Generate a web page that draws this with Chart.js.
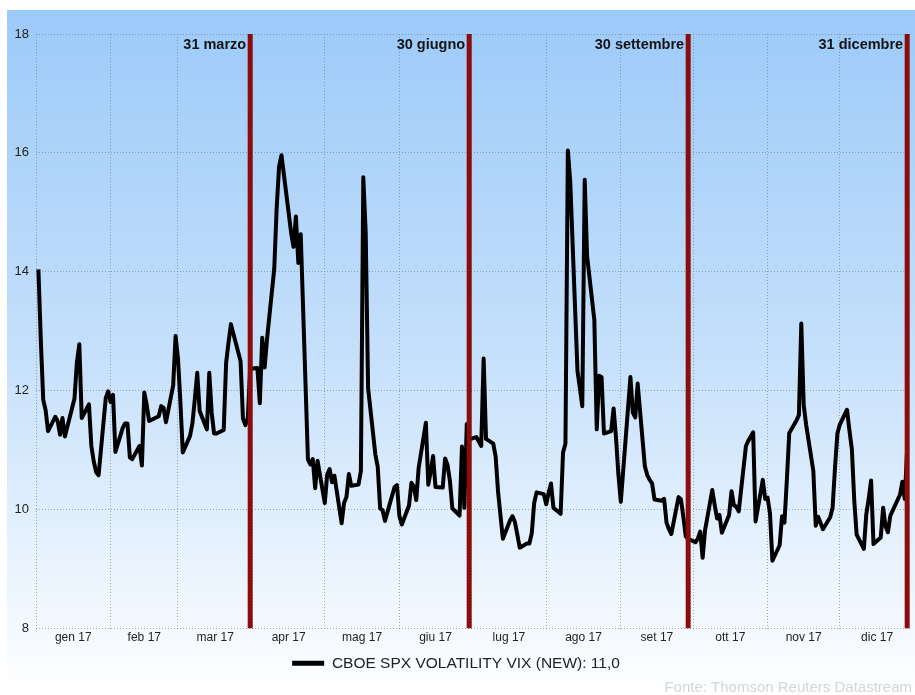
<!DOCTYPE html>
<html lang="it">
<head>
<meta charset="utf-8">
<title>CBOE SPX VOLATILITY VIX 2017</title>
<script src="https://cdn.jsdelivr.net/npm/chart.js@4.4.1/dist/chart.umd.min.js"></script>
<style>
  html, body { margin: 0; padding: 0; background: #ffffff; }
  #wrap { width: 915px; height: 695px; position: relative; }
</style>
</head>
<body>
<div id="wrap"><canvas id="chart"></canvas></div>
<script>
// VIX closes 2017, one array per month, trading days in calendar order
// (first value = 2 gen, filled by Datastream with the 2016 close)
const vixJan = [14.04, 12.85, 11.85, 11.67, 11.32, 11.56, 11.49, 11.26, 11.54, 11.23, 11.87, 12.48, 12.78, 11.54, 11.77, 11.07, 10.81, 10.63, 10.58, 11.88, 11.99];
const vixFeb = [11.81, 11.93, 10.97, 11.37, 11.45, 11.45, 10.88, 10.85, 11.07, 10.74, 11.97, 11.76, 11.49, 11.57, 11.74, 11.71, 11.47, 12.09, 12.92];
const vixMar = [12.54, 11.81, 10.96, 11.24, 11.45, 11.86, 12.30, 11.66, 11.35, 12.30, 11.63, 11.28, 11.28, 11.34, 12.47, 12.81, 13.12, 12.96, 12.50, 11.53, 11.42, 11.54, 12.37];
const vixApr = [12.38, 11.79, 12.89, 12.39, 12.87, 14.05, 15.07, 15.77, 15.96, 14.66, 14.42, 14.93, 14.15, 14.63, 10.84, 10.76, 10.85, 10.36, 10.82];
const vixMay = [10.11, 10.59, 10.68, 10.46, 10.57, 9.77, 10.11, 10.21, 10.60, 10.40, 10.42, 10.65, 15.59, 14.66, 12.04, 10.93, 10.72, 10.02, 9.99, 9.81, 10.38, 10.41];
const vixJun = [9.89, 9.75, 10.07, 10.45, 10.39, 10.16, 10.70, 11.46, 10.42, 10.64, 10.90, 10.38, 10.37, 10.86, 10.75, 10.48, 10.02, 9.90, 11.06, 10.03, 11.44, 11.18];
const vixJul = [11.22, 11.07, 12.54, 11.19, 11.11, 10.89, 10.30, 9.90, 9.51, 9.82, 9.89, 9.79, 9.58, 9.36, 9.43, 9.43, 9.60, 10.11, 10.29, 10.26];
const vixAug = [10.09, 10.28, 10.44, 10.03, 9.93, 10.96, 11.11, 16.04, 15.51, 12.33, 12.04, 11.74, 15.55, 14.26, 13.19, 11.35, 12.25, 12.23, 11.28, 11.32, 11.70, 11.22, 10.59];
const vixSep = [10.13, 12.23, 11.63, 11.55, 12.12, 10.73, 10.58, 10.50, 10.44, 10.17, 10.15, 10.18, 9.78, 9.67, 9.59, 10.21, 10.17, 9.87, 9.55, 9.51];
const vixOct = [9.45, 9.51, 9.63, 9.19, 9.65, 10.33, 10.08, 9.85, 9.91, 9.61, 9.91, 10.31, 10.07, 10.05, 9.97, 11.07, 11.16, 11.23, 11.30, 9.80, 10.50, 10.18];
const vixNov = [10.20, 9.93, 9.14, 9.40, 9.89, 9.78, 10.50, 11.29, 11.50, 11.59, 13.13, 11.76, 11.43, 10.65, 9.73, 9.88, 9.67, 9.87, 10.03, 10.70, 11.28];
const vixDec = [11.43, 11.68, 11.33, 11.02, 10.16, 9.58, 9.34, 9.92, 10.18, 10.49, 9.42, 9.53, 10.03, 9.72, 9.62, 9.90, 10.25, 10.47, 10.18, 11.04];

// market holidays (no value in the series)
const holidays = ['2017-01-16', '2017-02-20', '2017-04-14', '2017-05-29', '2017-07-04', '2017-09-04', '2017-11-23', '2017-12-25'];

const monthLabels = ['gen 17', 'feb 17', 'mar 17', 'apr 17', 'mag 17', 'giu 17', 'lug 17', 'ago 17', 'set 17', 'ott 17', 'nov 17', 'dic 17'];
const yTicks = [8, 10, 12, 14, 16, 18];

// quarter-end markers
const quarterDates = ['2017-03-31', '2017-06-30', '2017-09-29', '2017-12-29'];
const quarterLabels = ['31 marzo', '30 giugno', '30 settembre', '31 dicembre'];

const seriesLabel = 'CBOE SPX VOLATILITY VIX (NEW): 11,0';
const sourceText = 'Fonte: Thomson Reuters Datastream';

const monthValues = [vixJan, vixFeb, vixMar, vixApr, vixMay, vixJun, vixJul, vixAug, vixSep, vixOct, vixNov, vixDec];

// day of year, 1 gen = 0
function dayOfYear(iso) {
    const [y, m, d] = iso.split('-').map(Number);
    return (Date.UTC(y, m - 1, d) - Date.UTC(y, 0, 1)) / 86400000;
}
function pad(n) { return String(n).padStart(2, '0'); }

// Match each month's values to its trading days
const points = [];
monthValues.forEach((vals, m) => {
    const days = [];
    const last = new Date(Date.UTC(2017, m + 1, 0)).getUTCDate();
    for (let d = 1; d <= last; d++) {
        const iso = `2017-${pad(m + 1)}-${pad(d)}`;
        const wd = new Date(Date.UTC(2017, m, d)).getUTCDay();
        if (wd === 0 || wd === 6 || holidays.includes(iso)) continue;
        days.push(iso);
    }
    if (days.length !== vals.length) console.error('count mismatch', m, days.length, vals.length);
    vals.forEach((v, i) => points.push({ x: dayOfYear(days[i]), y: v }));
});

const monthStarts = monthLabels.map((_, m) => dayOfYear(`2017-${pad(m + 1)}-01`));
const monthMids = monthStarts.map((s, i) => (s + (i < 11 ? monthStarts[i + 1] : 365)) / 2);

const FONT = 'Liberation Sans, Arial, sans-serif';
Chart.defaults.font.family = FONT;

const gridColor = 'rgba(95,115,140,0.6)';

// Quarter lines go from the bottom to the top of the y range
const quarterSets = quarterDates.map((d, i) => ({
    label: quarterLabels[i],
    data: [{ x: dayOfYear(d), y: yTicks[0] }, { x: dayOfYear(d), y: yTicks[yTicks.length - 1] }],
    borderColor: '#8c0c0c',
    backgroundColor: '#8c0c0c',
    borderWidth: 5,
    pointRadius: 0,
    order: -1
}));

// Blue gradient background
const backgroundPlugin = {
    id: 'bg',
    beforeDraw(chart) {
        const c = chart.ctx;
        c.save();
        c.fillStyle = '#ffffff';
        c.fillRect(0, 0, chart.width, chart.height);
        const g = c.createLinearGradient(0, 10, 0, chart.height);
        g.addColorStop(0, '#9ccaf9');
        g.addColorStop(0.5, '#c5e0fb');
        g.addColorStop(1, '#ffffff');
        c.fillStyle = g;
        c.fillRect(7, 10, chart.width - 7, chart.height - 10);
        c.restore();
    }
};

// Text next to the quarter lines
const quarterTextPlugin = {
    id: 'quarterText',
    afterDatasetsDraw(chart) {
        const c = chart.ctx;
        const xs = chart.scales.x;
        c.save();
        c.font = `bold 14.5px ${FONT}`;
        c.fillStyle = '#141414';
        c.textAlign = 'right';
        c.textBaseline = 'middle';
        quarterDates.forEach((d, i) => {
            c.fillText(quarterLabels[i], xs.getPixelForValue(dayOfYear(d)) - 4, chart.chartArea.top + 11);
        });
        c.restore();
    }
};

const ctx = document.getElementById('chart');
new Chart(ctx, {
    type: 'line',
    data: {
        datasets: [{
            label: seriesLabel,
            data: points,
            borderColor: '#000000',
            backgroundColor: '#000000',
            borderWidth: 4,
            pointRadius: 0,
            tension: 0,
            borderJoinStyle: 'round',
            order: 1
        }, ...quarterSets]
    },
    options: {
        animation: false,
        responsive: true,
        maintainAspectRatio: false,
        layout: { padding: { top: 34, right: 3, left: 0, bottom: 0 } },
        scales: {
            x: {
                type: 'linear', min: 0, max: 364, position: 'bottom',
                afterBuildTicks: s => { s.ticks = monthStarts.map(v => ({ value: v })); },
                ticks: { display: false },
                grid: { color: gridColor, lineWidth: 1, drawTicks: false },
                border: { display: false, dash: [1, 2] },
                afterFit: s => { s.height = 0; }
            },
            xm: {
                type: 'linear', min: 0, max: 364, position: 'bottom',
                afterBuildTicks: s => { s.ticks = monthMids.map(v => ({ value: v })); },
                ticks: {
                    autoSkip: false, maxRotation: 0, padding: 2, color: '#222222',
                    font: { size: 12 },
                    callback: (v, i) => monthLabels[i]
                },
                grid: { display: false, drawTicks: false },
                border: { display: false },
                afterFit: s => { s.height = 24; }
            },
            y: {
                min: 8, max: 18,
                afterBuildTicks: s => { s.ticks = yTicks.map(v => ({ value: v })); },
                ticks: { padding: 7, color: '#222222', font: { size: 13 } },
                grid: { color: gridColor, lineWidth: 1, drawTicks: false },
                border: { display: false, dash: [1, 2] },
                afterFit: s => { s.width = 36; }
            }
        },
        plugins: {
            legend: {
                position: 'bottom',
                labels: {
                    boxWidth: 32, boxHeight: 5, padding: 3, color: '#222222',
                    font: { size: 15.5 },
                    generateLabels: chart => Chart.defaults.plugins.legend.labels.generateLabels(chart)
                        .filter(l => l.datasetIndex === 0)
                        .map(l => Object.assign(l, { lineWidth: 0, fillStyle: '#000000' }))
                }
            },
            title: {
                display: true, text: sourceText, position: 'bottom', align: 'end',
                color: '#d2d6db', font: { size: 15, weight: 'normal', lineHeight: 14 / 15 },
                padding: { top: 0, bottom: 0 }
            },
            tooltip: { enabled: false }
        }
    },
    plugins: [backgroundPlugin, quarterTextPlugin]
});
</script>
</body>
</html>
